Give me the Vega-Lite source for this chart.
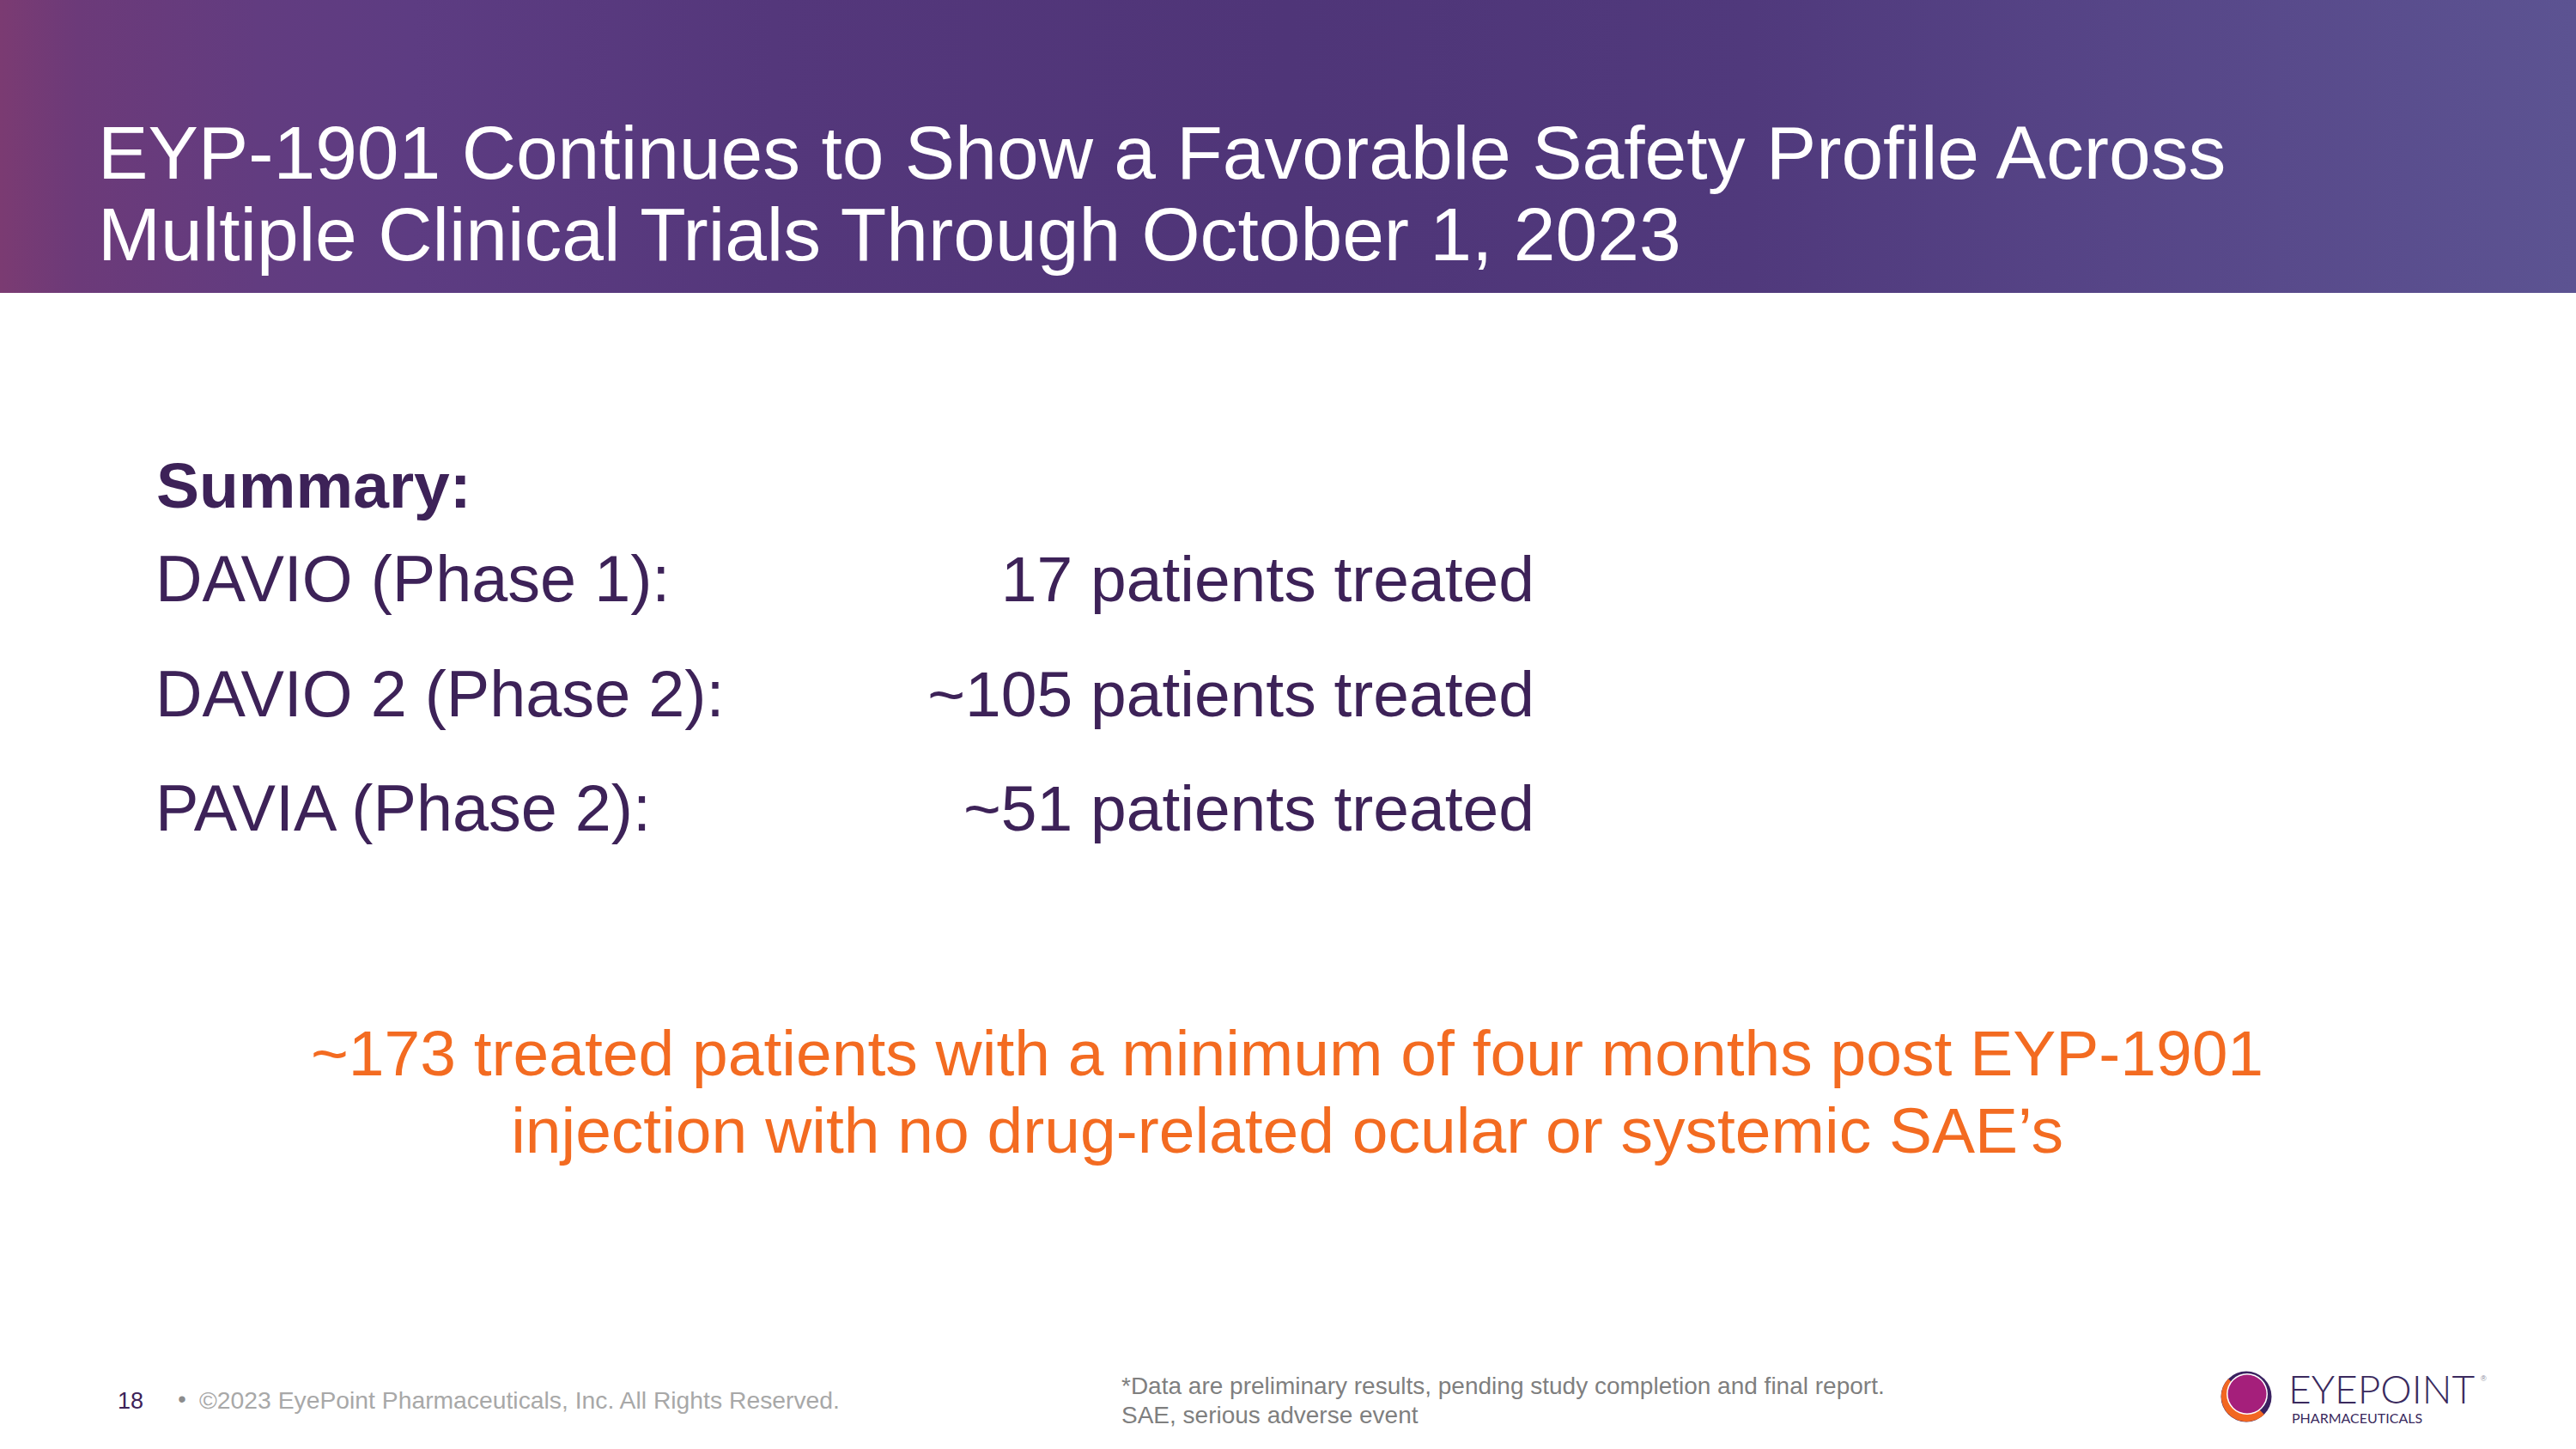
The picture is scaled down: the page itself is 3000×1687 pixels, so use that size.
{
  "$schema": "https://vega.github.io/schema/vega-lite/v6.json",
  "width": 3000,
  "height": 1687,
  "autosize": {"type": "fit", "contains": "padding"},
  "padding": 0,
  "background": "#ffffff",
  "config": {"view": {"stroke": null}, "text": {"font": "Liberation Sans"}},
  "datasets": {
    "header": [{"band": "header"}],
    "title": [{"text": "EYP-1901 Continues to Show a Favorable Safety Profile Across\nMultiple Clinical Trials Through October 1, 2023"}],
    "summary": [{"text": "Summary:"}],
    "trials": [
      {"trial": "DAVIO (Phase 1):", "patients": "17 patients treated"},
      {"trial": "DAVIO 2 (Phase 2):", "patients": "~105 patients treated"},
      {"trial": "PAVIA (Phase 2):", "patients": "~51 patients treated"}
    ],
    "callout": [{"text": "~173 treated patients with a minimum of four months post EYP-1901\ninjection with no drug-related ocular or systemic SAE’s"}],
    "page": [{"text": "18"}],
    "bullet": [{"text": "•"}],
    "copyright": [{"text": "©2023 EyePoint Pharmaceuticals, Inc. All Rights Reserved."}],
    "footnote": [{"text": "*Data are preliminary results, pending study completion and final report.\nSAE, serious adverse event"}],
    "logo": [{"brand": "EYEPOINT", "sub": "PHARMACEUTICALS", "reg": "®"}]
  },
  "layer": [
    {
      "layer": [
        {
          "data": {"name": "header"},
          "mark": {"type": "rect", "fill": {"gradient": "linear", "x1": 0, "y1": 0, "x2": 1, "y2": 0, "stops": [
            {"offset": 0, "color": "#7b3b72"},
            {"offset": 0.03, "color": "#6c3a79"},
            {"offset": 0.1, "color": "#623c80"},
            {"offset": 0.16, "color": "#5d3c82"},
            {"offset": 0.3, "color": "#54377b"},
            {"offset": 0.5, "color": "#4f3578"},
            {"offset": 0.68, "color": "#50397c"},
            {"offset": 0.82, "color": "#564587"},
            {"offset": 1, "color": "#5c5392"}
          ]}},
          "encoding": {
            "x": {"datum": 0, "type": "quantitative", "scale": {"domain": [0, 3000], "nice": false, "zero": false}, "axis": null},
            "x2": {"datum": 3000},
            "y": {"datum": 0, "type": "quantitative", "scale": {"domain": [0, 1687], "nice": false, "zero": false, "reverse": true}, "axis": null},
            "y2": {"datum": 341}
          }
        },
        {
          "data": {"name": "header"},
          "mark": {"type": "rect", "fill": {"gradient": "radial", "x1": 0.915, "y1": 1.0, "r1": 0, "x2": 0.915, "y2": 1.0, "r2": 0.2, "stops": [
            {"offset": 0, "color": "rgba(240,236,252,0.95)"},
            {"offset": 0.15, "color": "rgba(200,190,232,0.65)"},
            {"offset": 0.45, "color": "rgba(150,135,198,0.3)"},
            {"offset": 1, "color": "rgba(100,85,160,0)"}
          ]}},
          "encoding": {
            "x": {"datum": 0, "type": "quantitative"},
            "x2": {"datum": 3000},
            "y": {"datum": 0, "type": "quantitative"},
            "y2": {"datum": 341}
          }
        },
        {
          "data": {"name": "title"},
          "mark": {"type": "text", "align": "left", "baseline": "alphabetic", "fontSize": 87.6, "lineHeight": 95, "lineBreak": "\n", "color": "#ffffff"},
          "encoding": {
            "x": {"datum": 114, "type": "quantitative"},
            "y": {"datum": 208, "type": "quantitative"},
            "text": {"field": "text"}
          }
        },
        {
          "data": {"name": "summary"},
          "mark": {"type": "text", "align": "left", "baseline": "alphabetic", "fontSize": 75, "fontWeight": "bold", "color": "#3d2258"},
          "encoding": {
            "x": {"datum": 182, "type": "quantitative"},
            "y": {"datum": 591, "type": "quantitative"},
            "text": {"field": "text"}
          }
        },
        {
          "data": {"name": "callout"},
          "mark": {"type": "text", "align": "center", "baseline": "alphabetic", "fontSize": 75, "lineHeight": 90, "lineBreak": "\n", "color": "#f36b21"},
          "encoding": {
            "x": {"datum": 1499, "type": "quantitative"},
            "y": {"datum": 1252, "type": "quantitative"},
            "text": {"field": "text"}
          }
        },
        {
          "data": {"name": "page"},
          "mark": {"type": "text", "align": "left", "baseline": "alphabetic", "fontSize": 27, "color": "#3d2258"},
          "encoding": {
            "x": {"datum": 137, "type": "quantitative"},
            "y": {"datum": 1640, "type": "quantitative"},
            "text": {"field": "text"}
          }
        },
        {
          "data": {"name": "bullet"},
          "mark": {"type": "text", "align": "center", "baseline": "alphabetic", "fontSize": 27, "color": "#8c8c8c"},
          "encoding": {
            "x": {"datum": 212, "type": "quantitative"},
            "y": {"datum": 1638, "type": "quantitative"},
            "text": {"field": "text"}
          }
        },
        {
          "data": {"name": "copyright"},
          "mark": {"type": "text", "align": "left", "baseline": "alphabetic", "fontSize": 28.3, "color": "#a8a8a8"},
          "encoding": {
            "x": {"datum": 232, "type": "quantitative"},
            "y": {"datum": 1640, "type": "quantitative"},
            "text": {"field": "text"}
          }
        },
        {
          "data": {"name": "footnote"},
          "mark": {"type": "text", "align": "left", "baseline": "alphabetic", "fontSize": 28, "lineHeight": 34, "lineBreak": "\n", "color": "#7f7f7f"},
          "encoding": {
            "x": {"datum": 1306, "type": "quantitative"},
            "y": {"datum": 1623, "type": "quantitative"},
            "text": {"field": "text"}
          }
        },
        {
          "data": {"name": "logo"},
          "mark": {"type": "point", "shape": "circle", "filled": true, "size": 3481, "color": "#3a2160", "opacity": 1},
          "encoding": {
            "x": {"datum": 2616, "type": "quantitative"},
            "y": {"datum": 1626, "type": "quantitative"}
          }
        },
        {
          "data": {"name": "logo"},
          "mark": {"type": "point", "shape": "M-0.707,-0.707A1,1,0,0,0,0.707,0.707Z", "filled": true, "size": 3481, "color": "#f26722", "opacity": 1},
          "encoding": {
            "x": {"datum": 2616, "type": "quantitative"},
            "y": {"datum": 1626, "type": "quantitative"}
          }
        },
        {
          "data": {"name": "logo"},
          "mark": {"type": "point", "shape": "circle", "filled": true, "size": 2300, "color": "#ffffff", "opacity": 1},
          "encoding": {
            "x": {"datum": 2617, "type": "quantitative"},
            "y": {"datum": 1623, "type": "quantitative"}
          }
        },
        {
          "data": {"name": "logo"},
          "mark": {"type": "point", "shape": "circle", "filled": true, "size": 2025, "color": "#a51f7b", "opacity": 1},
          "encoding": {
            "x": {"datum": 2617, "type": "quantitative"},
            "y": {"datum": 1623, "type": "quantitative"}
          }
        },
        {
          "data": {"name": "logo"},
          "mark": {"type": "text", "align": "left", "baseline": "alphabetic", "font": "Lato", "fontWeight": 300, "fontSize": 46, "color": "#3a2a5e"},
          "encoding": {
            "x": {"datum": 2665, "type": "quantitative"},
            "y": {"datum": 1634, "type": "quantitative"},
            "text": {"field": "brand"}
          }
        },
        {
          "data": {"name": "logo"},
          "mark": {"type": "text", "align": "left", "baseline": "alphabetic", "font": "Lato", "fontWeight": 400, "fontSize": 16, "color": "#3a2a5e"},
          "encoding": {
            "x": {"datum": 2669, "type": "quantitative"},
            "y": {"datum": 1657, "type": "quantitative"},
            "text": {"field": "sub"}
          }
        },
        {
          "data": {"name": "logo"},
          "mark": {"type": "text", "align": "left", "baseline": "alphabetic", "fontSize": 9, "color": "#8a8a9a"},
          "encoding": {
            "x": {"datum": 2889, "type": "quantitative"},
            "y": {"datum": 1608, "type": "quantitative"},
            "text": {"field": "reg"}
          }
        }
      ]
    },
    {
      "data": {"name": "trials"},
      "encoding": {
        "y": {"field": "trial", "type": "nominal", "sort": null, "scale": {"type": "point", "domain": ["DAVIO (Phase 1):", "DAVIO 2 (Phase 2):", "PAVIA (Phase 2):"], "range": [700, 967], "padding": 0}, "axis": null}
      },
      "layer": [
        {
          "mark": {"type": "text", "align": "left", "baseline": "alphabetic", "fontSize": 75.6, "color": "#3d2258"},
          "encoding": {
            "x": {"datum": 181, "type": "quantitative", "scale": {"domain": [0, 3000], "nice": false, "zero": false}, "axis": null},
            "text": {"field": "trial"}
          }
        },
        {
          "mark": {"type": "text", "align": "right", "baseline": "alphabetic", "fontSize": 75, "color": "#3d2258"},
          "encoding": {
            "x": {"datum": 1787, "type": "quantitative"},
            "text": {"field": "patients"}
          }
        }
      ]
    }
  ],
  "resolve": {"scale": {"y": "independent"}}
}
